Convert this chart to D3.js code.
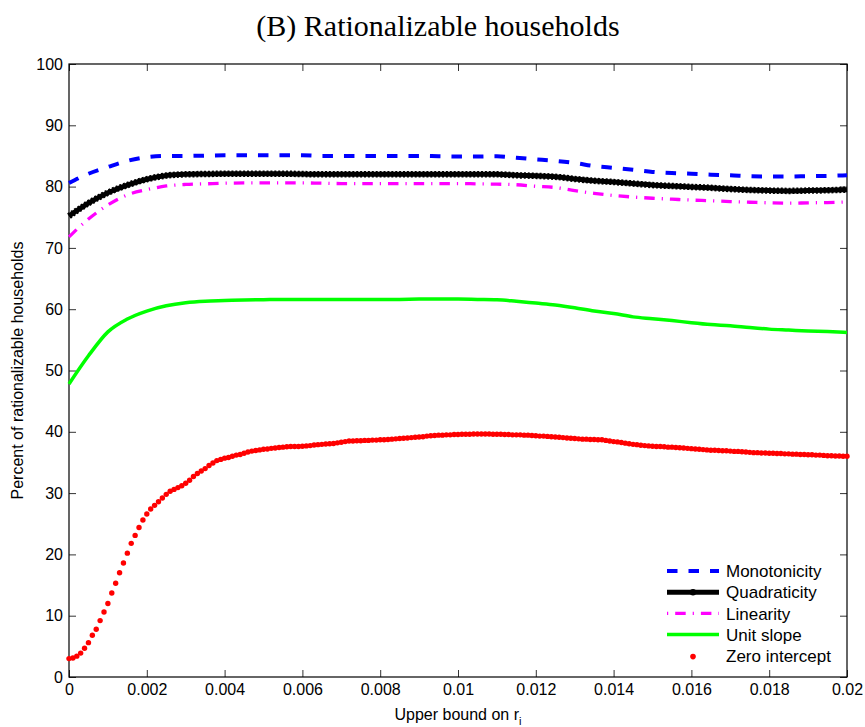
<!DOCTYPE html>
<html>
<head>
<meta charset="utf-8">
<script src="https://cdn.jsdelivr.net/npm/d3@7/dist/d3.min.js"></script>
<style>
body { margin: 0; background: #fff; }
text { font-family: "Liberation Sans", Arial, sans-serif; }
</style>
</head>
<body>
<svg id="chart" width="865" height="727"></svg>
<script>
// tick values and labels
var xTicks = [0, 0.002, 0.004, 0.006, 0.008, 0.01, 0.012, 0.014, 0.016, 0.018, 0.02];
var xTickLabels = ["0", "0.002", "0.004", "0.006", "0.008", "0.01", "0.012", "0.014", "0.016", "0.018", "0.02"];
var yTicks = [0, 10, 20, 30, 40, 50, 60, 70, 80, 90, 100];

// sampling grids (upper bound on r_i)
var xLine = d3.range(41).map(function(i){ return i * 0.0005; });
var xDots = d3.range(201).map(function(i){ return i * 0.0001; });

// percent rationalizable
var monotonicity = [80.6, 82.1, 83.2, 84.2, 84.8, 85.0, 85.0, 85.05, 85.1, 85.1,
	85.1, 85.1, 85.1, 85.0, 85.0, 85.0, 85.0, 85.0, 85.0, 84.95,
	84.9, 84.9, 84.95, 84.7, 84.45, 84.2, 83.85, 83.35, 83.05, 82.75,
	82.4, 82.2, 82.1, 81.95, 81.85, 81.7, 81.65, 81.65, 81.7, 81.75, 81.85];

var quadraticity = [75.2, 77.3, 79.0, 80.25, 81.2, 81.8, 82.0, 82.05, 82.1, 82.1,
	82.1, 82.1, 82.05, 82.0, 82.0, 82.0, 82.0, 82.0, 82.0, 82.0,
	82.0, 82.0, 82.0, 81.85, 81.75, 81.6, 81.25, 80.95, 80.75, 80.5,
	80.25, 80.1, 79.95, 79.8, 79.6, 79.45, 79.35, 79.3, 79.35, 79.4, 79.5];

var linearity = [71.8, 74.7, 77.0, 78.65, 79.5, 80.1, 80.35, 80.45, 80.55, 80.6,
	80.6, 80.6, 80.6, 80.55, 80.5, 80.5, 80.5, 80.5, 80.5, 80.5,
	80.5, 80.45, 80.4, 80.3, 80.05, 79.85, 79.35, 78.9, 78.55, 78.3,
	78.1, 77.95, 77.8, 77.7, 77.55, 77.45, 77.35, 77.3, 77.35, 77.4, 77.5];

var unitSlope = [47.8, 52.4, 56.3, 58.4, 59.7, 60.55, 61.05, 61.3, 61.4, 61.5,
	61.55, 61.6, 61.6, 61.6, 61.6, 61.6, 61.6, 61.6, 61.65, 61.65,
	61.65, 61.6, 61.55, 61.3, 61.0, 60.7, 60.25, 59.7, 59.3, 58.75,
	58.45, 58.15, 57.8, 57.5, 57.3, 57.0, 56.75, 56.6, 56.45, 56.35, 56.2];

var zeroIntercept = [3.0, 3.1, 3.4, 3.9, 4.7, 5.6, 6.8, 7.8, 9.2, 10.6,
	12.0, 13.7, 15.3, 17.0, 18.6, 20.2, 21.8, 23.1, 24.4, 25.6,
	26.6, 27.4, 28.0, 28.6, 29.2, 29.8, 30.3, 30.6, 30.9, 31.2,
	31.6, 32.1, 32.7, 33.2, 33.6, 34.0, 34.5, 34.9, 35.3, 35.5,
	35.7, 35.8, 36.0, 36.2, 36.3, 36.5, 36.7, 36.85, 36.95, 37.05,
	37.15, 37.2, 37.3, 37.35, 37.45, 37.5, 37.55, 37.6, 37.6, 37.6,
	37.65, 37.7, 37.75, 37.85, 37.9, 37.95, 38.0, 38.05, 38.1, 38.2,
	38.3, 38.4, 38.5, 38.5, 38.55, 38.55, 38.6, 38.6, 38.65, 38.65,
	38.7, 38.7, 38.75, 38.8, 38.85, 38.9, 38.95, 39.0, 39.05, 39.1,
	39.15, 39.2, 39.3, 39.35, 39.4, 39.45, 39.45, 39.5, 39.5, 39.55,
	39.55, 39.6, 39.6, 39.6, 39.65, 39.65, 39.65, 39.65, 39.65, 39.6,
	39.6, 39.6, 39.55, 39.55, 39.5, 39.5, 39.5, 39.45, 39.45, 39.4,
	39.35, 39.3, 39.3, 39.25, 39.2, 39.15, 39.1, 39.05, 39.0, 38.95,
	38.9, 38.85, 38.8, 38.8, 38.75, 38.75, 38.7, 38.7, 38.6, 38.5,
	38.4, 38.35, 38.25, 38.15, 38.05, 37.95, 37.9, 37.8, 37.75, 37.7,
	37.65, 37.6, 37.6, 37.55, 37.5, 37.5, 37.45, 37.4, 37.35, 37.3,
	37.25, 37.2, 37.15, 37.1, 37.05, 37.0, 37.0, 36.95, 36.9, 36.9,
	36.85, 36.8, 36.8, 36.75, 36.7, 36.65, 36.6, 36.6, 36.55, 36.55,
	36.5, 36.5, 36.45, 36.45, 36.4, 36.4, 36.35, 36.35, 36.3, 36.3,
	36.25, 36.25, 36.2, 36.2, 36.15, 36.1, 36.1, 36.05, 36.05, 36.0,
	36.0];

var legendNames = ["Monotonicity", "Quadraticity", "Linearity", "Unit slope", "Zero intercept"];

var svg = d3.select("#chart");
var plotLeft = 69, plotRight = 847, plotTop = 64, plotBottom = 677;

var x = d3.scaleLinear().domain([0, 0.02]).range([plotLeft, plotRight]);
var y = d3.scaleLinear().domain([0, 100]).range([plotBottom, plotTop]);

function zipLine(vals){
	return vals.map(function(v, i){ return [xLine[i], v]; });
}

var line = d3.line()
	.x(function(d){ return x(d[0]); })
	.y(function(d){ return y(d[1]); })
	.curve(d3.curveMonotoneX);

// title
svg.append("text")
	.attr("x", 438).attr("y", 36)
	.attr("text-anchor", "middle")
	.style("font-family", "'Liberation Serif', 'Times New Roman', serif")
	.style("font-size", "30px")
	.text("(B) Rationalizable households");

// axes, ticks pointing inward on all four sides
function styleAxis(g){
	g.select(".domain").remove();
	g.selectAll(".tick line").attr("stroke", "#333");
	g.selectAll(".tick text").style("font-size", "16px").attr("fill", "#000");
}

svg.append("g")
	.attr("transform", "translate(0," + plotBottom + ")")
	.call(d3.axisBottom(x).tickValues(xTicks)
		.tickFormat(function(d, i){ return xTickLabels[i]; })
		.tickSizeInner(-7).tickSizeOuter(0).tickPadding(7))
	.call(styleAxis);

svg.append("g")
	.attr("transform", "translate(0," + plotTop + ")")
	.call(d3.axisTop(x).tickValues(xTicks).tickFormat("")
		.tickSizeInner(-7).tickSizeOuter(0))
	.call(styleAxis);

svg.append("g")
	.attr("transform", "translate(" + plotLeft + ",0)")
	.call(d3.axisLeft(y).tickValues(yTicks).tickFormat(d3.format("d"))
		.tickSizeInner(-7).tickSizeOuter(0).tickPadding(6))
	.call(styleAxis);

svg.append("g")
	.attr("transform", "translate(" + plotRight + ",0)")
	.call(d3.axisRight(y).tickValues(yTicks).tickFormat("")
		.tickSizeInner(-7).tickSizeOuter(0))
	.call(styleAxis);

svg.append("rect")
	.attr("x", plotLeft).attr("y", plotTop)
	.attr("width", plotRight - plotLeft).attr("height", plotBottom - plotTop)
	.attr("fill", "none").attr("stroke", "#000").attr("stroke-width", 1.2);

// axis labels
var xl = svg.append("text")
	.attr("x", (plotLeft + plotRight) / 2).attr("y", 720)
	.attr("text-anchor", "middle")
	.style("font-size", "16px");
xl.append("tspan").text("Upper bound on r");
xl.append("tspan").attr("dy", 5).style("font-size", "11px").text("i");

svg.append("text")
	.attr("transform", "translate(23," + ((plotTop + plotBottom) / 2) + ") rotate(-90)")
	.attr("text-anchor", "middle")
	.style("font-size", "16px")
	.text("Percent of rationalizable households");

// series
svg.append("path").datum(zipLine(monotonicity))
	.attr("d", line).attr("fill", "none")
	.attr("stroke", "#0000ff").attr("stroke-width", 4)
	.attr("stroke-dasharray", "10.5,11");

svg.append("path").datum(zipLine(quadraticity))
	.attr("d", line).attr("fill", "none")
	.attr("stroke", "#000").attr("stroke-width", 5);
svg.append("path").datum(zipLine(quadraticity))
	.attr("d", line).attr("fill", "none")
	.attr("stroke", "#000").attr("stroke-width", 6.5)
	.attr("stroke-dasharray", "2,1.9");

svg.append("path").datum(zipLine(linearity))
	.attr("d", line).attr("fill", "none")
	.attr("stroke", "#ff00ff").attr("stroke-width", 3.3)
	.attr("stroke-dasharray", "10.5,7,1.2,7");

svg.append("path").datum(zipLine(unitSlope))
	.attr("d", line).attr("fill", "none")
	.attr("stroke", "#00ff00").attr("stroke-width", 3.5);

svg.append("g").selectAll("circle")
	.data(zeroIntercept)
	.enter().append("circle")
	.attr("cx", function(d, i){ return x(xDots[i]); })
	.attr("cy", function(d){ return y(d); })
	.attr("r", 2.7)
	.attr("fill", "#ff0000");

// legend
var lg = svg.append("g").attr("transform", "translate(667,571)");
var rowH = 21.2;
lg.selectAll("text").data(legendNames).enter().append("text")
	.attr("x", 59).attr("y", function(d, i){ return i * rowH; })
	.attr("dy", "0.36em")
	.style("font-size", "17px")
	.text(function(d){ return d; });

lg.append("line").attr("x1", 0).attr("x2", 52).attr("y1", 0).attr("y2", 0)
	.attr("stroke", "#0000ff").attr("stroke-width", 4).attr("stroke-dasharray", "10.5,11");
lg.append("line").attr("x1", 0).attr("x2", 52).attr("y1", rowH).attr("y2", rowH)
	.attr("stroke", "#000").attr("stroke-width", 5);
lg.append("circle").attr("cx", 26).attr("cy", rowH).attr("r", 3.2).attr("fill", "#000");
lg.append("line").attr("x1", 0).attr("x2", 52).attr("y1", 2 * rowH).attr("y2", 2 * rowH)
	.attr("stroke", "#ff00ff").attr("stroke-width", 3.3).attr("stroke-dasharray", "1.2,7,10.5,7");
lg.append("line").attr("x1", 0).attr("x2", 52).attr("y1", 3 * rowH).attr("y2", 3 * rowH)
	.attr("stroke", "#00ff00").attr("stroke-width", 3.5);
lg.append("circle").attr("cx", 26).attr("cy", 4 * rowH + 0.8).attr("r", 2.8).attr("fill", "#ff0000");
</script>
</body>
</html>
